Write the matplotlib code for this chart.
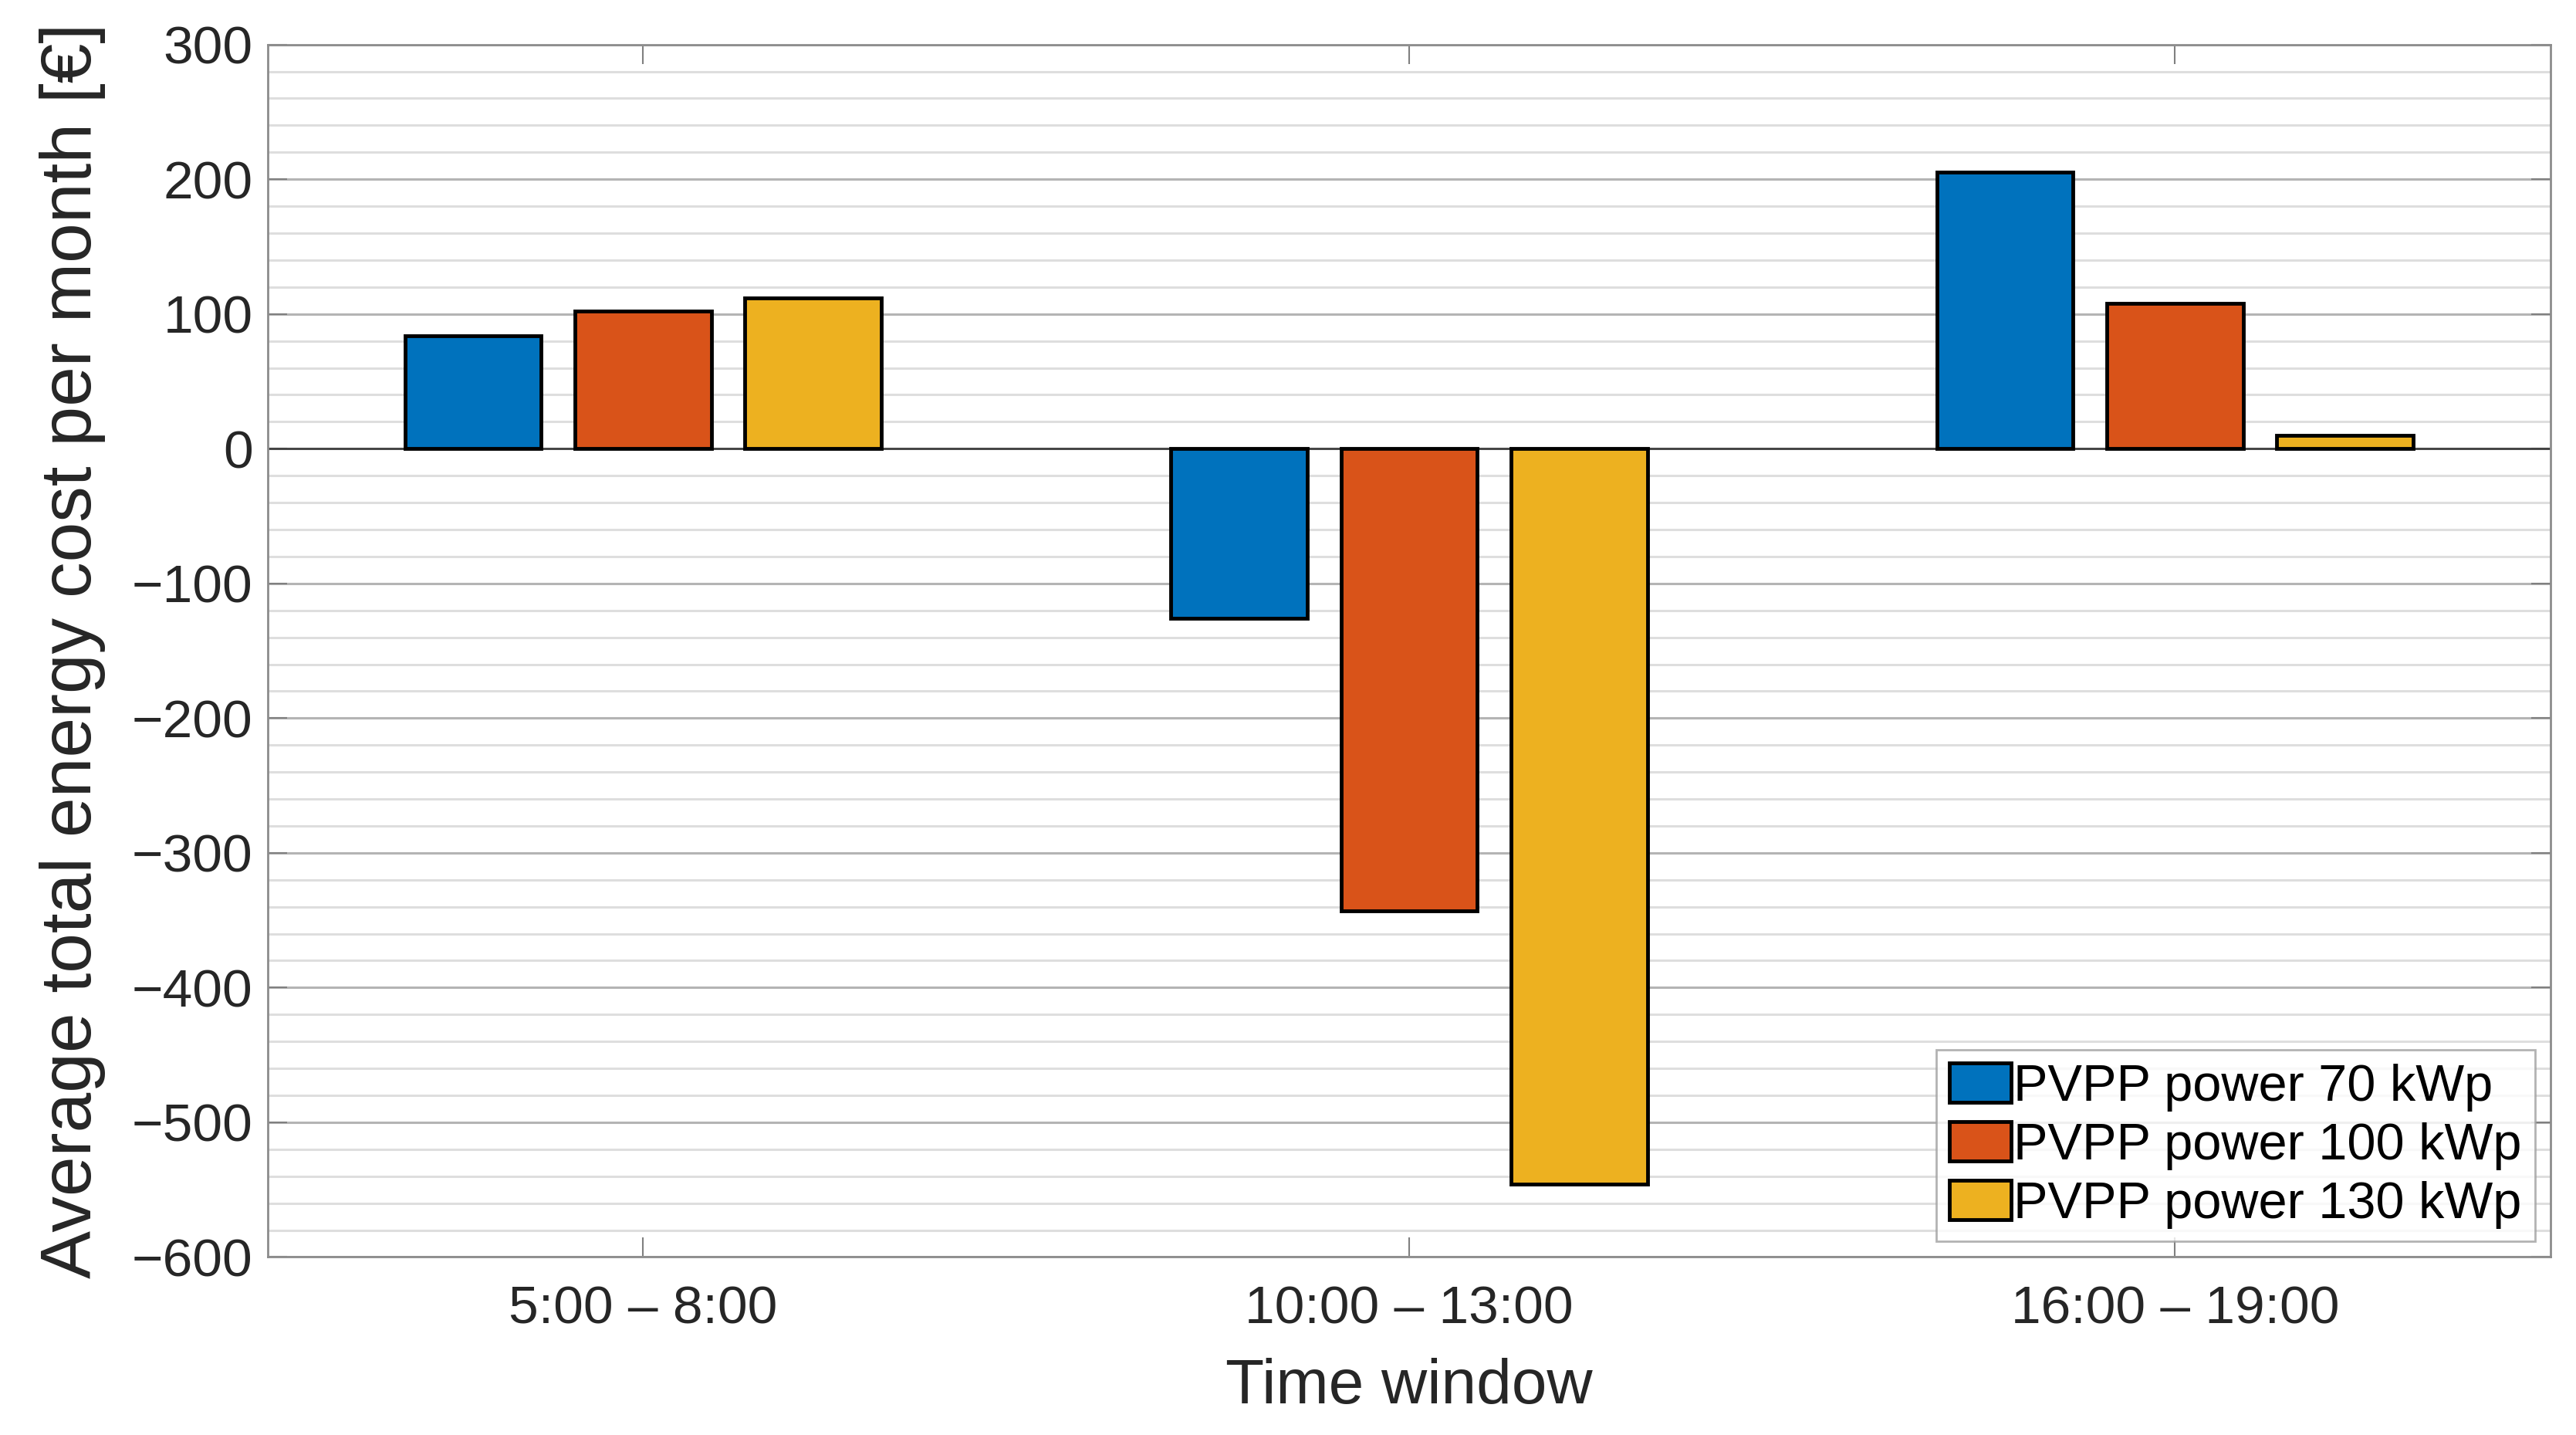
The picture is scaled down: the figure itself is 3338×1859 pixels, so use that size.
import matplotlib.pyplot as plt
import numpy as np
from matplotlib.ticker import MultipleLocator

# data
windows = ['5:00 – 8:00', '10:00 – 13:00', '16:00 – 19:00']
series = ['PVPP power 70 kWp', 'PVPP power 100 kWp', 'PVPP power 130 kWp']
cost_70 = [84, -126, 205]
cost_100 = [102, -343, 108]
cost_130 = [112, -546, 10]
colors = ['#0072BD', '#D95319', '#EDB120']

plt.rcParams['font.family'] = ['Liberation Sans', 'DejaVu Sans']
plt.rcParams['axes.unicode_minus'] = True

fig = plt.figure(figsize=(33.38, 18.59), dpi=100)
ax = fig.add_axes([0.104, 0.124, 0.886, 0.845])

x = np.arange(1, len(windows) + 1)
offset = 0.222
width = 0.178
values = [cost_70, cost_100, cost_130]

for i in range(len(series)):
    ax.bar(x + (i - 1) * offset, values[i], width, color=colors[i],
           edgecolor='black', linewidth=3.5, label=series[i], zorder=3)

# baseline at zero
ax.axhline(0, color='#404040', linewidth=2, zorder=2)

ax.set_xlim(0.51, 3.49)
ax.set_ylim(-600, 300)
ax.set_xticks(x)
ax.set_xticklabels(windows)
ax.yaxis.set_major_locator(MultipleLocator(100))
ax.yaxis.set_minor_locator(MultipleLocator(20))

ax.grid(axis='y', which='major', color='#b4b4b4', linewidth=2.2, zorder=0)
ax.grid(axis='y', which='minor', color='#dedede', linewidth=2.2, zorder=0)
ax.set_axisbelow(True)

ax.tick_params(axis='both', which='major', direction='in', length=18, width=1.5,
               colors='#808080', labelcolor='#262626', labelsize=50,
               top=True, right=True)
ax.tick_params(axis='y', which='minor', length=0)
ax.tick_params(axis='x', pad=26)
ax.tick_params(axis='y', pad=14)
for sp in ax.spines.values():
    sp.set_color('#8c8c8c')
    sp.set_linewidth(2)

ax.set_xlabel('Time window', fontsize=59, color='#262626', labelpad=22)
ax.set_ylabel('Average total energy cost per month [€]', fontsize=67,
              color='#262626', labelpad=24)

leg = ax.legend(loc='lower right', fontsize=48, frameon=True, fancybox=False,
                handlelength=1.2, handleheight=0.8, handletextpad=0.05,
                labelspacing=0.2, borderpad=0.25, borderaxespad=0.3,
                edgecolor='#a0a0a0')
leg.get_frame().set_linewidth(2)

fig.savefig('out.png', dpi=100)
